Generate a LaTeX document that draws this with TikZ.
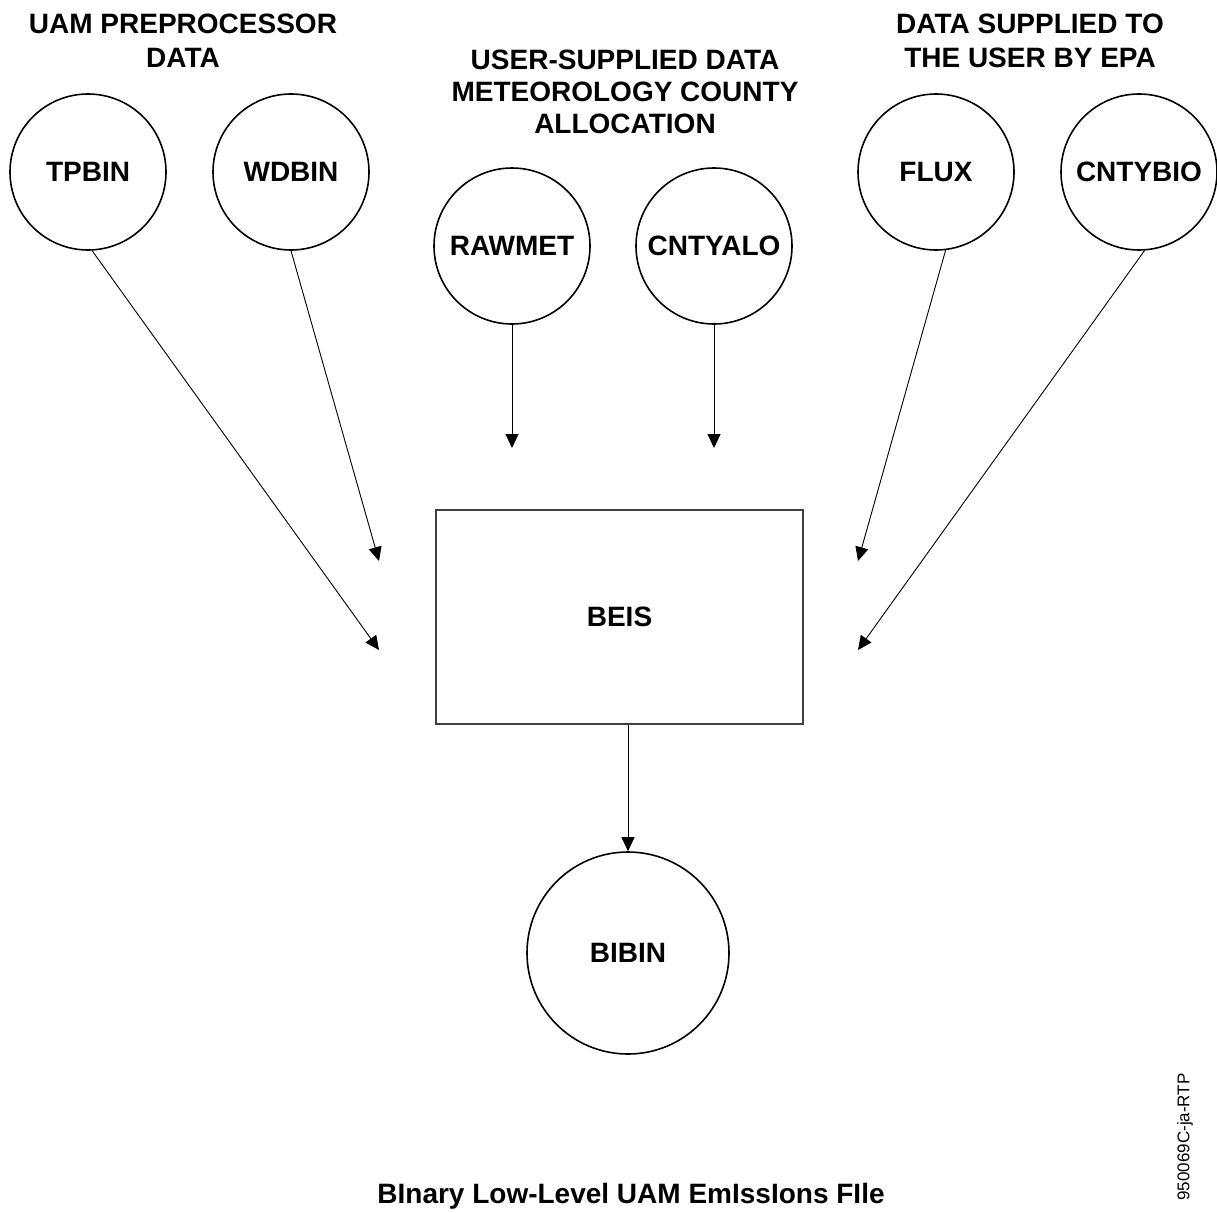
\documentclass[tikz,border=0pt]{standalone}
\usepackage{fontspec}
\setmainfont{Liberation Sans}
\usetikzlibrary{arrows.meta}

\begin{document}
\begin{tikzpicture}[
        x=1pt, y=-1pt, % координаты в пикселях, ось y вниз
        file/.style = {circle, draw, line width=1.6pt, minimum size=156pt, inner sep=0pt, font=\fontsize{28}{33}\selectfont\bfseries}, % файлы данных
        proc/.style = {rectangle, draw=black!75, line width=1.2pt, minimum width=367pt, minimum height=214pt, font=\fontsize{28}{33}\selectfont\bfseries}, % программа
        head/.style = {align=center, anchor=north, inner sep=0pt, font=\fontsize{28}{33.5}\selectfont\bfseries}, % заголовки групп
        conn/.style = {draw, line width=0.9pt, -{Triangle[length=14pt, width=13pt]}},
    ]
    \useasboundingbox (0,0) rectangle (1217,1212);

    % заголовки групп
    \node[head] (hpre) at (183,14) {UAM PREPROCESSOR\\DATA};
    \node[head, font=\fontsize{28}{32}\selectfont\bfseries] (huser) at (625,50) {USER-SUPPLIED DATA\\METEOROLOGY COUNTY\\ALLOCATION};
    \node[head] (hepa) at (1030,14) {DATA SUPPLIED TO\\THE USER BY EPA};

    % входные файлы
    \node[file] (tp) at (88,172) {TPBIN};
    \node[file] (wd) at (291,172) {WDBIN};
    \node[file] (rm) at (512,246) {RAWMET};
    \node[file] (ca) at (714,246) {CNTYALO};
    \node[file] (fl) at (936,172) {FLUX};
    \node[file] (cb) at (1139,172) {CNTYBIO};

    \node[proc] (beis) at (619.5,617) {BEIS};
    \node[file, minimum size=202pt] (bibin) at (628,953) {BIBIN};

    % свободные концы стрелок
    \coordinate (tpend) at (379,650);
    \coordinate (wdend) at (379,561);
    \coordinate (rmend) at (512,448);
    \coordinate (caend) at (714,448);
    \coordinate (flend) at (858,561);
    \coordinate (cbend) at (858,650);

    \draw[conn] (tp.-87) -- (tpend);
    \draw[conn] (wd.south) -- (wdend);
    \draw[conn] (rm.south) -- (rmend);
    \draw[conn] (ca.south) -- (caend);
    \draw[conn] (fl.-83) -- (flend);
    \draw[conn] (cb.-86) -- (cbend);
    \draw[conn] (beis.south -| bibin.north) -- (bibin.north);

    \node[anchor=base, font=\fontsize{28}{33}\selectfont\bfseries] (title) at (631,1203) {BInary Low-Level UAM EmIssIons FIle};
    \node[rotate=90, font=\fontsize{17}{20}\selectfont] (code) at (1185,1137) {950069C-ja-RTP};
\end{tikzpicture}
\end{document}
